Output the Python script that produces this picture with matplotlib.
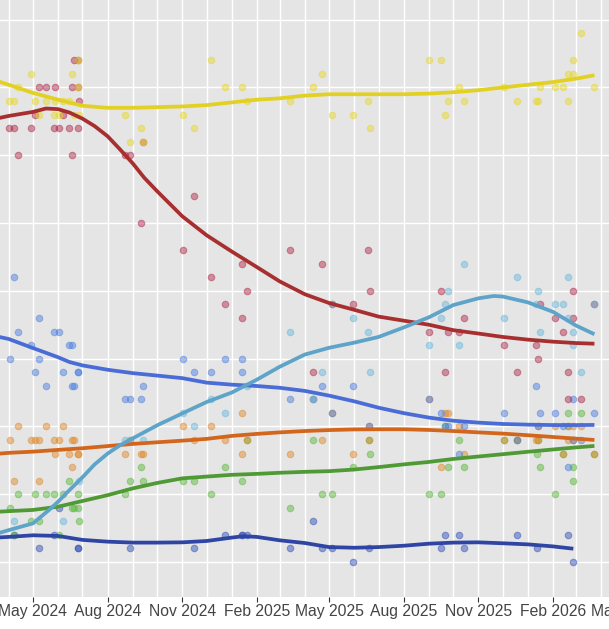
import datetime as dt
import matplotlib
matplotlib.use("Agg")
import matplotlib.pyplot as plt
import matplotlib.dates as mdates

# Poll results, (fieldwork date, percent)
snp_polls = [
    ("2024-04-02", 34), ("2024-04-08", 34), ("2024-04-13", 35), ("2024-04-29", 36), ("2024-05-03", 34),
    ("2024-05-09", 33), ("2024-05-17", 34), ("2024-05-27", 33), ("2024-05-28", 34), ("2024-06-02", 33),
    ("2024-06-07", 34), ("2024-06-14", 34), ("2024-06-18", 36), ("2024-06-20", 33), ("2024-06-25", 37),
    ("2024-06-25", 35), ("2024-06-27", 33), ("2024-08-22", 33), ("2024-08-29", 31), ("2024-09-11", 32),
    ("2024-09-13", 31), ("2024-11-02", 33), ("2024-11-15", 32), ("2024-12-06", 37), ("2024-12-24", 35),
    ("2025-01-14", 35), ("2025-01-20", 34), ("2025-03-14", 34), ("2025-04-11", 35), ("2025-04-22", 36),
    ("2025-05-05", 33), ("2025-05-30", 33), ("2025-06-18", 34), ("2025-06-20", 32), ("2025-09-01", 37),
    ("2025-09-16", 37), ("2025-09-21", 33), ("2025-09-25", 34), ("2025-10-08", 35), ("2025-10-14", 34),
    ("2025-12-03", 35), ("2025-12-19", 34), ("2026-01-11", 34), ("2026-01-14", 34), ("2026-01-16", 35),
    ("2026-02-04", 35), ("2026-02-13", 35), ("2026-02-19", 34), ("2026-02-20", 36), ("2026-02-26", 36),
    ("2026-02-26", 37), ("2026-03-07", 39), ("2026-03-24", 35),
]
lab_polls = [
    ("2024-04-02", 32), ("2024-04-08", 32), ("2024-04-13", 30), ("2024-04-29", 32), ("2024-05-03", 33),
    ("2024-05-09", 35), ("2024-05-17", 35), ("2024-05-27", 32), ("2024-05-28", 35), ("2024-06-02", 32),
    ("2024-06-07", 33), ("2024-06-14", 32), ("2024-06-18", 35), ("2024-06-18", 30), ("2024-06-20", 37),
    ("2024-06-25", 37), ("2024-06-25", 35), ("2024-06-27", 34), ("2024-06-26", 32), ("2024-08-22", 30),
    ("2024-08-29", 30), ("2024-09-13", 31), ("2024-09-11", 25), ("2024-11-15", 27), ("2024-11-02", 23),
    ("2024-12-06", 21), ("2024-12-24", 19), ("2025-01-14", 22), ("2025-01-14", 18), ("2025-01-20", 20),
    ("2025-03-14", 23), ("2025-04-11", 14), ("2025-04-22", 22), ("2025-05-05", 19), ("2025-05-30", 19),
    ("2025-06-18", 23), ("2025-06-20", 20), ("2025-09-01", 17), ("2025-09-16", 20), ("2025-09-21", 14),
    ("2025-09-25", 17), ("2025-10-08", 17), ("2025-10-14", 18), ("2025-12-03", 16), ("2025-12-19", 14),
    ("2026-01-11", 16), ("2026-01-14", 15), ("2026-01-16", 19), ("2026-02-04", 18), ("2026-02-13", 17),
    ("2026-02-19", 14), ("2026-02-20", 12), ("2026-02-26", 20), ("2026-02-26", 18), ("2026-03-07", 12),
    ("2026-03-24", 19),
]
ref_polls = [
    ("2024-04-08", 3), ("2024-06-07", 3), ("2024-06-27", 6), ("2024-08-22", 9), ("2024-08-29", 9),
    ("2024-09-13", 9), ("2024-11-02", 11), ("2024-11-15", 10), ("2024-12-06", 12), ("2024-12-24", 11),
    ("2025-01-20", 13), ("2025-03-14", 17), ("2025-04-11", 12), ("2025-04-22", 14), ("2025-05-05", 19),
    ("2025-05-30", 18), ("2025-06-18", 17), ("2025-06-20", 14), ("2025-09-01", 16), ("2025-09-16", 18),
    ("2025-09-21", 19), ("2025-09-25", 20), ("2025-10-08", 16), ("2025-10-14", 22), ("2025-12-03", 18),
    ("2025-12-19", 21), ("2026-01-11", 19), ("2026-01-14", 20), ("2026-01-16", 17), ("2026-02-04", 19),
    ("2026-02-13", 19), ("2026-02-20", 21), ("2026-02-19", 18), ("2026-02-26", 17), ("2026-02-26", 16),
    ("2026-03-07", 14), ("2026-03-24", 19),
]
con_polls = [
    ("2024-04-03", 15), ("2024-04-08", 21), ("2024-04-13", 17), ("2024-04-29", 16), ("2024-05-03", 14),
    ("2024-05-08", 18), ("2024-05-09", 15), ("2024-05-17", 13), ("2024-05-27", 17), ("2024-06-02", 17),
    ("2024-06-07", 14), ("2024-06-14", 16), ("2024-06-18", 16), ("2024-06-18", 13), ("2024-06-20", 13),
    ("2024-06-26", 14), ("2024-06-26", 14), ("2024-08-22", 12), ("2024-08-29", 12), ("2024-09-11", 12),
    ("2024-09-13", 13), ("2024-11-02", 15), ("2024-11-15", 14), ("2024-12-06", 14), ("2024-12-24", 15),
    ("2025-01-14", 15), ("2025-01-14", 14), ("2025-03-14", 12), ("2025-04-11", 12), ("2025-04-22", 13),
    ("2025-05-05", 11), ("2025-05-30", 13), ("2025-06-19", 10), ("2025-09-01", 12), ("2025-09-16", 11),
    ("2025-09-21", 10), ("2025-09-25", 10), ("2025-10-08", 8), ("2025-10-14", 10), ("2025-12-03", 11),
    ("2025-12-19", 9), ("2026-01-11", 13), ("2026-01-14", 10), ("2026-01-16", 11), ("2026-02-04", 11),
    ("2026-02-13", 10), ("2026-02-20", 7), ("2026-02-26", 12), ("2026-02-26", 9), ("2026-03-07", 9),
    ("2026-03-24", 11),
]
ld_polls = [
    ("2024-04-03", 9), ("2024-04-08", 6), ("2024-04-13", 10), ("2024-04-29", 9), ("2024-05-03", 9),
    ("2024-05-08", 6), ("2024-05-09", 9), ("2024-05-17", 10), ("2024-05-27", 9), ("2024-05-28", 8),
    ("2024-06-02", 9), ("2024-06-07", 10), ("2024-06-14", 8), ("2024-06-18", 9), ("2024-06-18", 7),
    ("2024-06-20", 9), ("2024-06-26", 8), ("2024-06-26", 8), ("2024-08-22", 8), ("2024-08-29", 9),
    ("2024-09-11", 8), ("2024-09-13", 8), ("2024-11-02", 10), ("2024-11-15", 9), ("2024-12-06", 10),
    ("2024-12-24", 9), ("2025-01-14", 11), ("2025-01-14", 8), ("2025-01-20", 9), ("2025-03-14", 8),
    ("2025-04-11", 12), ("2025-04-22", 9), ("2025-05-05", 11), ("2025-05-30", 8), ("2025-06-19", 10),
    ("2025-06-19", 9), ("2025-09-01", 12), ("2025-09-16", 7), ("2025-09-21", 11), ("2025-09-25", 11),
    ("2025-10-08", 10), ("2025-10-14", 8), ("2025-12-03", 9), ("2025-12-19", 9), ("2026-01-11", 9),
    ("2026-01-14", 9), ("2026-01-14", 10), ("2026-02-04", 10), ("2026-02-13", 8), ("2026-02-19", 9),
    ("2026-02-19", 10), ("2026-02-26", 10), ("2026-02-26", 9), ("2026-03-07", 10), ("2026-03-24", 8),
]
grn_polls = [
    ("2024-04-03", 4), ("2024-04-08", 2), ("2024-04-13", 5), ("2024-04-29", 3), ("2024-05-03", 5),
    ("2024-05-09", 3), ("2024-05-17", 5), ("2024-05-27", 5), ("2024-06-02", 2), ("2024-06-07", 5),
    ("2024-06-14", 6), ("2024-06-18", 4), ("2024-06-20", 4), ("2024-06-25", 4), ("2024-06-26", 5),
    ("2024-06-27", 3), ("2024-08-22", 5), ("2024-08-29", 6), ("2024-09-11", 7), ("2024-09-13", 6),
    ("2024-11-02", 6), ("2024-11-15", 6), ("2024-12-06", 5), ("2024-12-24", 7), ("2025-01-14", 6),
    ("2025-01-20", 9), ("2025-03-14", 4), ("2025-04-11", 9), ("2025-04-22", 5), ("2025-05-05", 5),
    ("2025-05-30", 7), ("2025-06-19", 9), ("2025-06-20", 8), ("2025-09-01", 5), ("2025-09-16", 5),
    ("2025-09-21", 10), ("2025-09-25", 7), ("2025-10-08", 9), ("2025-10-14", 7), ("2025-12-03", 9),
    ("2025-12-19", 9), ("2026-01-12", 8), ("2026-01-14", 9), ("2026-01-16", 7), ("2026-02-04", 5),
    ("2026-02-13", 8), ("2026-02-19", 11), ("2026-02-19", 10), ("2026-02-26", 7), ("2026-02-26", 6),
    ("2026-03-07", 11), ("2026-03-24", 8),
]
alba_polls = [
    ("2024-04-08", 2), ("2024-05-09", 1), ("2024-05-27", 2), ("2024-06-02", 4), ("2024-06-26", 1),
    ("2024-06-26", 1), ("2024-08-29", 1), ("2024-11-15", 1), ("2024-12-24", 2), ("2025-01-13", 2),
    ("2025-01-13", 2), ("2025-01-20", 2), ("2025-03-14", 1), ("2025-04-11", 3), ("2025-04-22", 1),
    ("2025-05-05", 1), ("2025-05-30", 0), ("2025-06-19", 1), ("2025-09-16", 1), ("2025-09-21", 2),
    ("2025-10-08", 2), ("2025-10-14", 1), ("2025-12-19", 2), ("2026-01-12", 1), ("2026-02-19", 2),
    ("2026-02-26", 0),
]

# Smoothed trend lines
snp_trend = [
    ("2024-03-01", 35.8), ("2024-04-01", 35.2), ("2024-05-01", 34.6), ("2024-06-01", 34.1),
    ("2024-07-01", 33.65), ("2024-08-01", 33.5), ("2024-09-01", 33.5), ("2024-10-01", 33.55),
    ("2024-11-01", 33.6), ("2024-12-01", 33.7), ("2025-01-01", 33.9), ("2025-02-01", 34.1),
    ("2025-03-01", 34.2), ("2025-04-01", 34.4), ("2025-05-01", 34.5), ("2025-06-01", 34.5),
    ("2025-07-01", 34.5), ("2025-08-01", 34.5), ("2025-09-01", 34.55), ("2025-10-01", 34.65),
    ("2025-11-01", 34.8), ("2025-12-01", 35.0), ("2026-01-01", 35.2), ("2026-02-01", 35.4),
    ("2026-03-01", 35.65), ("2026-03-24", 35.9),
]
lab_trend = [
    ("2024-03-01", 32.5), ("2024-04-01", 32.9), ("2024-05-01", 33.2), ("2024-05-17", 33.45),
    ("2024-06-01", 33.4), ("2024-06-15", 33.15), ("2024-07-01", 32.7), ("2024-07-16", 32.15),
    ("2024-08-01", 31.4), ("2024-08-16", 30.45), ("2024-09-01", 29.4), ("2024-09-15", 28.35),
    ("2024-10-01", 27.35), ("2024-11-01", 25.5), ("2024-12-01", 24.1), ("2025-01-01", 22.9),
    ("2025-02-01", 21.75), ("2025-03-01", 20.7), ("2025-04-01", 19.75), ("2025-05-01", 19.1),
    ("2025-06-01", 18.6), ("2025-07-01", 18.1), ("2025-08-01", 17.8), ("2025-09-01", 17.5),
    ("2025-10-01", 17.1), ("2025-11-01", 16.85), ("2025-12-01", 16.6), ("2026-01-01", 16.4),
    ("2026-02-01", 16.25), ("2026-03-01", 16.15), ("2026-03-24", 16.1),
]
ref_trend = [
    ("2024-03-01", 1.8), ("2024-04-01", 2.35), ("2024-05-01", 2.85), ("2024-05-22", 3.9),
    ("2024-06-01", 4.45), ("2024-06-11", 5.07), ("2024-07-01", 6.25), ("2024-07-16", 7.2),
    ("2024-08-01", 8.0), ("2024-08-16", 8.6), ("2024-09-01", 9.12), ("2024-10-01", 10.08),
    ("2024-11-01", 10.96), ("2024-12-01", 11.8), ("2025-01-01", 12.5), ("2025-02-01", 13.45),
    ("2025-03-01", 14.4), ("2025-04-01", 15.3), ("2025-05-01", 15.8), ("2025-06-01", 16.18),
    ("2025-07-01", 16.6), ("2025-08-01", 17.3), ("2025-09-01", 18.05), ("2025-10-01", 18.95),
    ("2025-11-01", 19.45), ("2025-11-20", 19.62), ("2025-12-01", 19.58), ("2026-01-01", 19.15),
    ("2026-02-01", 18.45), ("2026-03-01", 17.45), ("2026-03-24", 16.8),
]
con_trend = [
    ("2024-03-01", 16.85), ("2024-04-01", 16.45), ("2024-05-01", 15.78), ("2024-06-01", 15.1),
    ("2024-06-15", 14.75), ("2024-07-01", 14.5), ("2024-08-01", 14.18), ("2024-09-01", 13.93),
    ("2024-10-01", 13.75), ("2024-11-01", 13.56), ("2024-12-01", 13.23), ("2025-01-01", 13.08),
    ("2025-02-01", 12.98), ("2025-03-01", 12.85), ("2025-04-01", 12.62), ("2025-05-01", 12.27),
    ("2025-06-01", 11.85), ("2025-07-01", 11.38), ("2025-08-01", 10.98), ("2025-09-01", 10.65),
    ("2025-10-01", 10.42), ("2025-11-01", 10.28), ("2025-12-01", 10.18), ("2026-01-01", 10.13),
    ("2026-02-01", 10.1), ("2026-03-01", 10.1), ("2026-03-24", 10.11),
]
ld_trend = [
    ("2024-03-01", 7.9), ("2024-04-01", 8.05), ("2024-05-01", 8.14), ("2024-06-01", 8.27),
    ("2024-07-01", 8.39), ("2024-08-01", 8.55), ("2024-09-01", 8.71), ("2024-10-01", 8.83),
    ("2024-11-01", 8.95), ("2024-12-01", 9.08), ("2025-01-01", 9.3), ("2025-02-01", 9.45),
    ("2025-03-01", 9.56), ("2025-04-01", 9.66), ("2025-05-01", 9.73), ("2025-06-01", 9.78),
    ("2025-07-01", 9.79), ("2025-08-01", 9.79), ("2025-09-01", 9.74), ("2025-10-01", 9.66),
    ("2025-11-01", 9.56), ("2025-12-01", 9.47), ("2026-01-01", 9.35), ("2026-02-01", 9.22),
    ("2026-03-01", 9.1), ("2026-03-24", 9.0),
]
grn_trend = [
    ("2024-03-01", 3.65), ("2024-04-01", 3.75), ("2024-05-01", 3.84), ("2024-06-01", 4.08),
    ("2024-07-01", 4.5), ("2024-08-01", 4.93), ("2024-09-01", 5.43), ("2024-10-01", 5.83),
    ("2024-11-01", 6.17), ("2024-12-01", 6.3), ("2025-01-01", 6.43), ("2025-02-01", 6.5),
    ("2025-03-01", 6.58), ("2025-04-01", 6.65), ("2025-05-01", 6.7), ("2025-06-01", 6.82),
    ("2025-07-01", 7.0), ("2025-08-01", 7.2), ("2025-09-01", 7.38), ("2025-10-01", 7.6),
    ("2025-11-01", 7.78), ("2025-12-01", 7.95), ("2026-01-01", 8.13), ("2026-02-01", 8.3),
    ("2026-03-01", 8.45), ("2026-03-24", 8.56),
]
alba_trend = [
    ("2024-03-01", 1.75), ("2024-04-01", 1.85), ("2024-05-01", 1.97), ("2024-06-01", 1.92),
    ("2024-07-01", 1.63), ("2024-08-01", 1.5), ("2024-09-01", 1.43), ("2024-10-01", 1.43),
    ("2024-11-01", 1.45), ("2024-12-01", 1.55), ("2025-01-01", 1.8), ("2025-01-15", 1.9),
    ("2025-02-01", 1.85), ("2025-03-01", 1.6), ("2025-04-01", 1.4), ("2025-05-01", 1.1),
    ("2025-06-01", 1.05), ("2025-07-01", 1.1), ("2025-08-01", 1.2), ("2025-09-01", 1.35),
    ("2025-10-01", 1.43), ("2025-11-01", 1.45), ("2025-12-01", 1.38), ("2026-01-01", 1.3),
    ("2026-02-01", 1.15), ("2026-02-26", 0.98),
]

# (polls, trend, line colour, point colour), drawn in this order
parties = [
    (alba_polls, alba_trend, "#2f45a4", "#3550b8"),
    (grn_polls, grn_trend, "#4f9a35", "#5cb83e"),
    (ld_polls, ld_trend, "#d2661c", "#e08a2c"),
    (con_polls, con_trend, "#4a6cd6", "#4f7fe0"),
    (lab_polls, lab_trend, "#a82f30", "#b02c4c"),
    (snp_polls, snp_trend, "#e2d123", "#e6d82a"),
    (ref_polls, ref_trend, "#5da4c8", "#6bb8dc"),
]


def to_date(s):
    return dt.date.fromisoformat(s)


fig = plt.figure(figsize=(6.09, 6.29), dpi=100)
# the panel runs past the top and the right of the picture (cropped chart)
ax = fig.add_axes([-20 / 609, 32.3 / 629, 660 / 609, 617 / 629])
ax.set_facecolor("#e5e5e5")
for s in ax.spines.values():
    s.set_visible(False)

for polls, trend, lc, pc in parties:
    ax.scatter([to_date(d) for d, v in polls], [v for d, v in polls], s=22, color=pc,
               alpha=0.48, linewidths=0.8, zorder=2)
for polls, trend, lc, pc in parties:
    ax.plot([to_date(d) for d, v in trend], [v for d, v in trend], color=lc, lw=2.7,
            zorder=3, solid_capstyle="butt", solid_joinstyle="round")

ax.set_yticks(range(0, 45, 5))
ax.set_yticklabels([])
ax.tick_params(axis="y", length=0)

# x range: 0.8113 px per day, May 2024 tick at x=33px
d0 = mdates.date2num(dt.date(2024, 5, 1))
ax.set_xlim(d0 - 53 / 0.8113, d0 + 607 / 0.8113)
ax.set_ylim(-2.56, 42.95)

ax.xaxis.set_major_locator(mdates.MonthLocator(bymonth=(2, 5, 8, 11)))
ax.xaxis.set_minor_locator(mdates.MonthLocator())
ax.xaxis.set_major_formatter(mdates.DateFormatter("%b %Y"))
ax.tick_params(axis="x", which="major", length=3.5, width=0.8, color="#333333", pad=1.5,
               labelsize=11.3, labelcolor="#444444")
ax.tick_params(axis="x", which="minor", length=0)
for lab in ax.get_xticklabels():
    lab.set_family(["Liberation Sans", "DejaVu Sans"])

ax.grid(True, which="both", color="white", lw=1.0, zorder=0)
ax.set_axisbelow(True)

fig.savefig("out.png", dpi=100)
